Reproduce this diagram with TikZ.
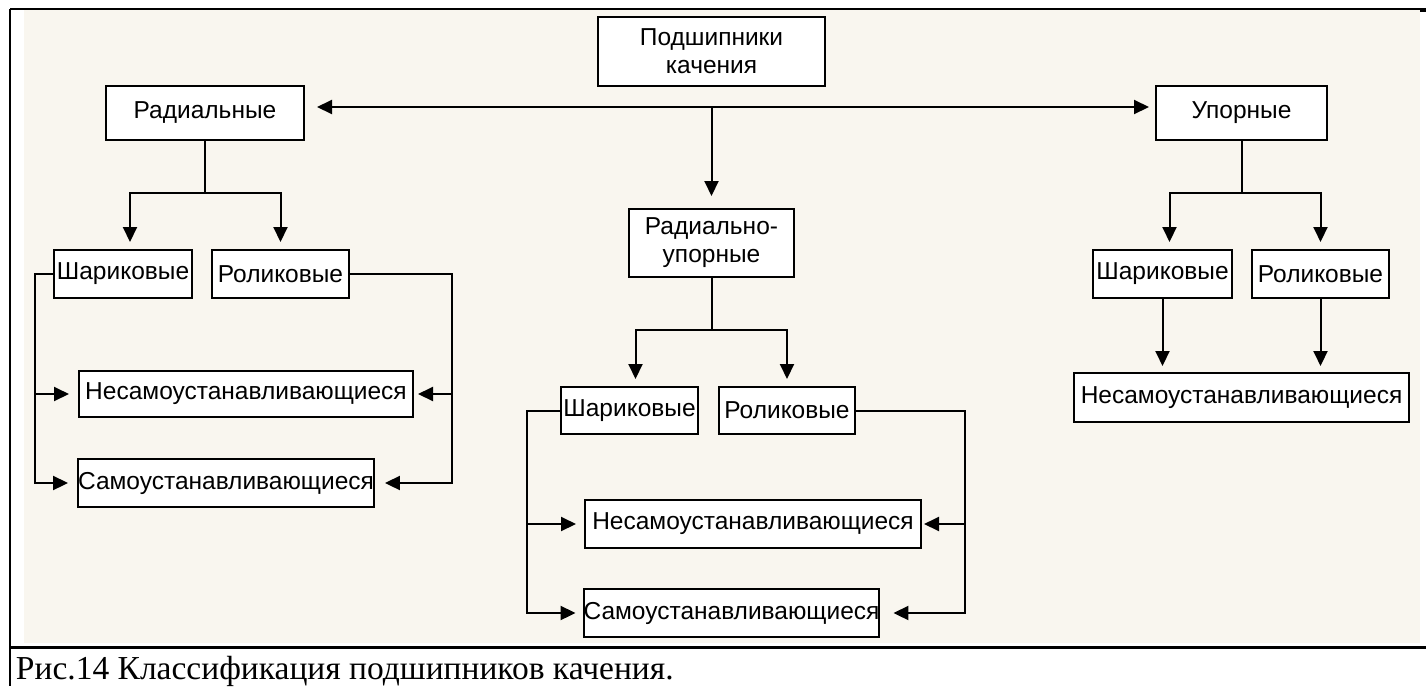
\documentclass[tikz,border=0pt]{standalone}
\usepackage{fontspec}
\setmainfont{Liberation Sans}
\newfontfamily\capfont{Liberation Serif}
\usetikzlibrary{arrows.meta}
\definecolor{paper}{RGB}{249,246,239}

\begin{document}
\begin{tikzpicture}[x=1pt, y=-1pt, >={Triangle[length=15pt,width=14pt]}, line width=2pt,
  box/.style={draw, fill=white, inner sep=0pt, align=center, font=\fontsize{24.5}{28}\selectfont}]
	% 1. фон, рамка таблицы и подпись
	\useasboundingbox (0,0) rectangle (1426,686);
	\fill[paper] (24,10) rectangle (1420,643);
	\draw[line width=2.2pt] (10,9) -- (10,686);
	\draw[line width=1.4pt] (10,9) -- (1426,9);
	\draw[line width=3pt] (1420,10) -- (1426,10);
	\draw[line width=3pt] (10,647) -- (1426,647);
	\node[anchor=base west, inner sep=0pt, font=\capfont\fontsize{33.5}{38}\selectfont] (cap) at (15,679) {Рис.14 Классификация подшипников качения.};
	
	% 2. верхний уровень
	\node[box, minimum width=227pt, minimum height=69pt] (top) at (711.5,51.5) {Подшипники\\качения};
	\node[box, minimum width=198pt, minimum height=54pt] (rad) at (205,113) {Радиальные};
	\node[box, minimum width=171pt, minimum height=54pt] (upo) at (1241.5,113) {Упорные};
	\node[box, minimum width=165pt, minimum height=68pt] (rup) at (711.5,243) {Радиально-\\упорные};
	\coordinate (bar) at (712,107);
	\draw[<->, shorten <=12pt, shorten >=6pt] (rad.east |- bar) -- (upo.west |- bar);
	\draw[->, shorten >=12pt] (bar) -- (rup.north |- bar) -- (rup.north);
	
	% 3. радиальные
	\node[box, minimum width=138pt, minimum height=48pt] (rsh) at (123,274) {Шариковые};
	\node[box, minimum width=137pt, minimum height=48pt] (rrol) at (280.5,274) {Роликовые};
	\node[box, minimum width=334pt, minimum height=46pt] (rnes) at (246,394) {Несамоустанавливающиеся};
	\node[box, minimum width=294pt, minimum height=48pt] (rsam) at (226,483) {Самоустанавливающиеся};
	\coordinate (rfork) at (205,193);
	\coordinate (rl) at (35,394);
	\coordinate (rr) at (452,394);
	\draw (rad.south) -- (rfork);
	\draw[->, shorten >=7pt] (rfork) -| ([xshift=7pt]rsh.north);
	\draw[->, shorten >=7pt] (rfork) -| (rrol.north);
	\draw[->, shorten >=9pt] (rsh.west) -| (rl) |- (rsam.west);
	\draw[->, shorten >=9pt] (rl) -- (rnes.west);
	\draw[->, shorten >=10pt] (rrol.east) -| (rr) |- (rsam.east);
	\draw[->, shorten >=4pt] (rr) -- (rnes.east);
	
	% 4. радиально-упорные
	\node[box, minimum width=137pt, minimum height=47pt] (csh) at (629.5,410.5) {Шариковые};
	\node[box, minimum width=136pt, minimum height=47pt] (crol) at (787,410.5) {Роликовые};
	\node[box, minimum width=336pt, minimum height=48pt] (cnes) at (753,524) {Несамоустанавливающиеся};
	\node[box, minimum width=295pt, minimum height=48pt] (csam) at (731.5,613) {Самоустанавливающиеся};
	\coordinate (cfork) at (711.5,330);
	\coordinate (cl) at (527,524);
	\coordinate (cr) at (965,524);
	\draw (rup.south) -- (cfork);
	\draw[->, shorten >=7pt] (cfork) -| ([xshift=6pt]csh.north);
	\draw[->, shorten >=7pt] (cfork) -| (crol.north);
	\draw[->, shorten >=7pt] (csh.west) -| (cl) |- (csam.west);
	\draw[->, shorten >=8pt] (cl) -- (cnes.west);
	\draw[->, shorten >=13pt] (crol.east) -| (cr) |- (csam.east);
	\draw[->, shorten >=2pt] (cr) -- (cnes.east);
	
	% 5. упорные
	\node[box, minimum width=139pt, minimum height=48pt] (ush) at (1162.5,274) {Шариковые};
	\node[box, minimum width=137pt, minimum height=48pt] (urol) at (1320.5,274) {Роликовые};
	\node[box, minimum width=335pt, minimum height=49pt] (unes) at (1241.5,397.5) {Несамоустанавливающиеся};
	\coordinate (ufork) at (1241.5,193);
	\draw (upo.south) -- (ufork);
	\draw[->, shorten >=7pt] (ufork) -| ([xshift=7pt]ush.north);
	\draw[->, shorten >=7pt] (ufork) -| (urol.north);
	\draw[->, shorten >=6pt] (ush.south) -- (ush.south |- unes.north);
	\draw[->, shorten >=6pt] (urol.south) -- (urol.south |- unes.north);
\end{tikzpicture}
\end{document}
